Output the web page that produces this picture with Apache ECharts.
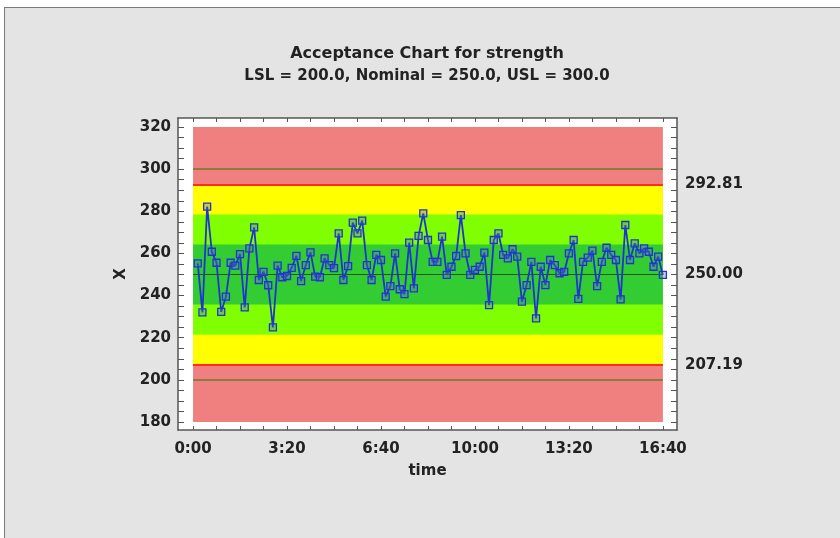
<!DOCTYPE html>
<html>
<head>
<meta charset="utf-8">
<script src="https://cdn.jsdelivr.net/npm/echarts@6/dist/echarts.min.js"></script>
<style>
  html, body { margin: 0; padding: 0; background: #ffffff; }
  #frame { position: absolute; left: 4px; top: 7px; width: 836px; height: 531px;
           background: #e4e4e4; border-left: 1.5px solid #7a7a7a; border-top: 1.5px solid #7a7a7a; box-sizing: border-box; }
  #chart { position: absolute; left: 0; top: 0; width: 840px; height: 538px; }
</style>
</head>
<body>
<div id="frame"></div>
<div id="chart"></div>
<script>
// ---- data ----
const titleText = 'Acceptance Chart for strength';
const subtitleText = 'LSL = 200.0, Nominal = 250.0, USL = 300.0';
const sampleTimes = [10,20,30,40,50,60,70,80,90,100,110,120,130,140,150,160,170,180,190,200,
  210,220,230,240,250,260,270,280,290,300,310,320,330,340,350,360,370,380,390,400,
  410,420,430,440,450,460,470,480,490,500,510,520,530,540,550,560,570,580,590,600,
  610,620,630,640,650,660,670,680,690,700,710,720,730,740,750,760,770,780,790,800,
  810,820,830,840,850,860,870,880,890,900,910,920,930,940,950,960,970,980,990,1000];
const strength = [255.3,232.0,282.2,260.8,255.6,232.3,239.5,255.6,254.2,259.7,
  234.4,262.4,272.4,247.4,251.3,244.9,224.9,254.2,248.7,249.3,
  253.2,258.9,246.9,254.5,260.5,249.0,248.7,257.7,254.5,253.0,
  269.5,247.4,254.0,274.6,269.5,275.6,254.5,247.4,259.3,256.9,
  239.5,244.5,260.0,243.0,240.7,265.1,243.4,268.3,279.0,266.4,
  256.0,256.0,268.0,249.8,253.7,258.8,278.2,260.0,249.8,252.2,
  253.7,260.4,235.5,266.4,269.5,259.3,257.7,262.0,258.5,237.1,
  245.0,256.0,229.2,253.7,245.0,256.9,254.5,250.6,251.3,260.0,
  266.4,238.4,256.0,258.0,261.3,244.5,256.0,262.7,259.3,256.9,
  238.2,273.5,256.9,264.8,260.0,262.4,260.8,253.7,258.5,249.8];
const specLimits = [200.0, 300.0];          // LSL, USL
const nominal = 250.0;
const acceptLimits = [207.19, 292.81];      // lower / upper acceptance limits
const zone2 = [221.46, 278.54];
const zone1 = [235.73, 264.27];
const plotRange = [180, 320];
const timeRange = [0, 1000];
const yLabelValues = [180, 200, 220, 240, 260, 280, 300, 320];
const xLabelValues = [0, 200, 400, 600, 800, 1000];
const xLabelTexts = ['0:00', '3:20', '6:40', '10:00', '13:20', '16:40'];
const rightLabelValues = [207.19, 250.00, 292.81];

// ---- styles ----
const FONT = 'DejaVu Sans';
const TXT = '#222222';
const AX = '#555555';
const yTicks = []; for (let v = 180; v <= 320; v += 5) yTicks.push(v);
const xTicks = []; for (let v = 0; v <= 1000; v += 50) xTicks.push(v);
const Y_MIN = 176.2, Y_MAX = 324.3, X_MIN = -32, X_MAX = 1030;

function band(lo, hi, color) {
  return [{ coord: [timeRange[0], lo], itemStyle: { color: color, opacity: 1 } },
          { coord: [timeRange[1], hi] }];
}
function hline(v, color, width) {
  return [{ coord: [timeRange[0], v], lineStyle: { color: color, width: width, type: 'solid' } },
          { coord: [timeRange[1], v] }];
}

const chart = echarts.init(document.getElementById('chart'), null, { renderer: 'canvas' });
const lblStyle = { color: TXT, fontFamily: FONT, fontWeight: 'bold', fontSize: 15 };

chart.setOption({
  backgroundColor: 'transparent',
  animation: false,
  title: [
    { text: titleText, left: 422, textAlign: 'center', top: 41, textStyle: { color: TXT, fontFamily: FONT, fontWeight: 'bold', fontSize: 16 } },
    { text: subtitleText, left: 422, textAlign: 'center', top: 64, textStyle: { color: TXT, fontFamily: FONT, fontWeight: 'bold', fontSize: 15 } }
  ],
  grid: { left: 178, right: 163, top: 118, bottom: 108, show: true, backgroundColor: '#ffffff', borderWidth: 0 },
  xAxis: [
    { type: 'value', position: 'bottom', min: X_MIN, max: X_MAX,
      name: 'time', nameLocation: 'middle', nameGap: 34, nameTextStyle: lblStyle,
      axisLine: { show: true, lineStyle: { color: AX, width: 1.5 } },
      axisTick: { show: true, inside: true, length: 4, customValues: xTicks, lineStyle: { color: AX } },
      axisLabel: { show: true, margin: 12, customValues: xLabelValues, ...lblStyle,
        formatter: v => xLabelTexts[xLabelValues.indexOf(Math.round(v))] || '' },
      splitLine: { show: false } },
    { type: 'value', position: 'top', min: X_MIN, max: X_MAX,
      axisLine: { show: true, onZero: false, lineStyle: { color: AX, width: 1.5 } },
      axisTick: { show: true, inside: true, length: 4, customValues: xTicks, lineStyle: { color: AX } },
      axisLabel: { show: false }, splitLine: { show: false } }
  ],
  yAxis: [
    { type: 'value', position: 'left', min: Y_MIN, max: Y_MAX,
      name: 'X', nameLocation: 'middle', nameGap: 49, nameRotate: 90, nameTextStyle: lblStyle,
      axisLine: { show: true, onZero: false, lineStyle: { color: AX, width: 1.5 } },
      axisTick: { show: true, inside: true, length: 6, customValues: yTicks, lineStyle: { color: AX } },
      axisLabel: { show: true, margin: 7, customValues: yLabelValues, ...lblStyle },
      splitLine: { show: false } },
    { type: 'value', position: 'right', min: Y_MIN, max: Y_MAX,
      axisLine: { show: true, onZero: false, lineStyle: { color: AX, width: 1.5 } },
      axisTick: { show: true, inside: true, length: 6, customValues: yTicks, lineStyle: { color: AX } },
      axisLabel: { show: true, margin: 8, customValues: rightLabelValues, ...lblStyle,
        formatter: v => Number(v).toFixed(2) },
      splitLine: { show: false } }
  ],
  series: [{
    type: 'line',
    xAxisIndex: 0, yAxisIndex: 0,
    data: sampleTimes.map((t, i) => [t, strength[i]]),
    symbol: 'rect', symbolSize: 7,
    lineStyle: { color: '#1f35d0', width: 1.8 },
    itemStyle: { color: 'rgba(90,110,190,0.35)', borderColor: '#1f35d0', borderWidth: 1.3 },
    z: 5,
    markArea: {
      silent: true,
      data: [
        band(plotRange[0], plotRange[1], '#f08080'),
        band(acceptLimits[0], acceptLimits[1], '#ffff00'),
        band(zone2[0], zone2[1], '#80ff00'),
        band(zone1[0], zone1[1], '#33cc33')
      ]
    },
    markLine: {
      silent: true, symbol: ['none', 'none'], label: { show: false },
      data: [
        hline(specLimits[0], '#8a7c3c', 2),
        hline(specLimits[1], '#8a7c3c', 2),
        hline(acceptLimits[0], '#ff2a1a', 2),
        hline(acceptLimits[1], '#ff2a1a', 2),
        hline(nominal, '#1d5a1d', 1)
      ]
    }
  }]
});
</script>
</body>
</html>
